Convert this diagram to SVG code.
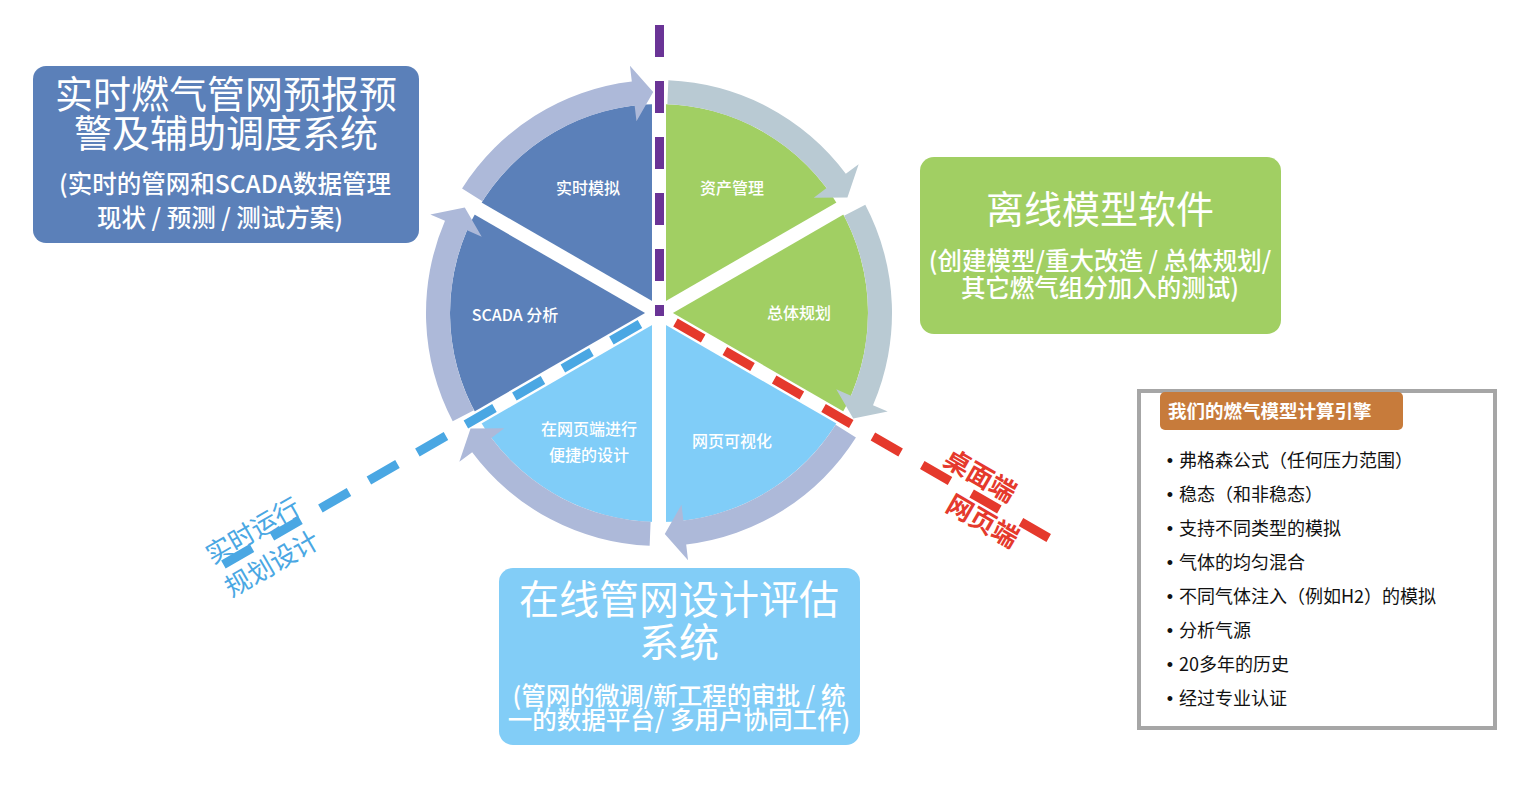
<svg xmlns="http://www.w3.org/2000/svg" width="1526" height="788" viewBox="0 0 1526 788">
<defs>
<style>
text{font-family:"Noto Sans CJK SC","Noto Sans",sans-serif}
.wl{fill:#fff;font-size:16px;font-weight:500;text-anchor:middle}
.t1{fill:#fff;font-size:38px;text-anchor:middle}
.t1b{fill:#fff;font-size:40px;text-anchor:middle}
.t2{fill:#fff;font-size:24.5px;font-weight:500;text-anchor:middle}
.blt{fill:#111;font-size:18px}
.dot{fill:#111;font-size:18px;font-family:"Liberation Sans",sans-serif;text-anchor:middle}
.hd{fill:#fff;font-size:18.5px;font-weight:bold}
.gap{stroke:#fff;stroke-width:14}
.ringA{fill:#adb9d9}
.ringB{fill:#b9cad3}
.rt{fill:#e5392c;font-size:26px;font-weight:bold;text-anchor:middle}
.bt{fill:#4aa7e3;font-size:26px;text-anchor:middle}
</style>
<path id="wedge" d="M659,313 L868,313 A209,209 0 0 1 763.5,494 Z"/>
<path id="arc" d="M891.81,322.35 A233,233 0 0 1 798.25,499.82 L807.81,512.65 L774.48,501.44 L774.34,467.75 L783.91,480.57 A209,209 0 0 0 867.83,321.39 Z"/>
</defs>
<rect width="1526" height="788" fill="#fff"/>

<g id="wedge-realtime-sim"><use href="#wedge" transform="rotate(210 659 313)" fill="#5b80b9"/><text class="wl" x="588" y="194">实时模拟</text></g>
<g id="wedge-asset"><use href="#wedge" transform="rotate(-90 659 313)" fill="#a1cf63"/><text class="wl" x="732" y="194">资产管理</text></g>
<g id="wedge-planning"><use href="#wedge" transform="rotate(-30 659 313)" fill="#a1cf63"/><text class="wl" x="799" y="319">总体规划</text></g>
<g id="wedge-webvis"><use href="#wedge" transform="rotate(30 659 313)" fill="#80cdf8"/><text class="wl" x="732" y="447">网页可视化</text></g>
<g id="wedge-webdesign"><use href="#wedge" transform="rotate(90 659 313)" fill="#80cdf8"/><text class="wl" x="589" y="435">在网页端进行</text><text class="wl" x="589" y="461">便捷的设计</text></g>
<g id="wedge-scada"><use href="#wedge" transform="rotate(150 659 313)" fill="#5b80b9"/><text class="wl" x="515" y="321">SCADA 分析</text></g>

<g id="gaps">
<line class="gap" x1="659" y1="313" x2="659" y2="101"/>
<line class="gap" x1="659" y1="313" x2="842.6" y2="207"/>
<line class="gap" x1="659" y1="313" x2="842.6" y2="419"/>
<line class="gap" x1="659" y1="313" x2="659" y2="525"/>
<line class="gap" x1="659" y1="313" x2="475.4" y2="419"/>
<line class="gap" x1="659" y1="313" x2="475.4" y2="207"/>
</g>

<g id="connectors">
<use href="#arc" class="ringB" transform="rotate(-90 659 313)"/>
<use href="#arc" class="ringB" transform="rotate(-30 659 313)"/>
<use href="#arc" class="ringA" transform="rotate(30 659 313)"/>
<use href="#arc" class="ringA" transform="rotate(90 659 313)"/>
<use href="#arc" class="ringA" transform="rotate(150 659 313)"/>
<use href="#arc" class="ringA" transform="rotate(210 659 313)"/>
<line x1="659.5" y1="25" x2="659.5" y2="316" stroke="#6a3496" stroke-width="9" stroke-dasharray="32 24"/>
<line x1="675.45" y1="322.5" x2="1048.7" y2="538" stroke="#e5392c" stroke-width="9" stroke-dasharray="32 25"/>
<line x1="639.95" y1="324" x2="223.4" y2="564.5" stroke="#4aa7e3" stroke-width="9" stroke-dasharray="33 23"/>
</g>

<g id="label-desktop-web">
<text class="rt" transform="translate(980 476) rotate(30)" y="9">桌面端</text>
<text class="rt" transform="translate(982.5 521.5) rotate(30)" y="9">网页端</text>
</g>
<g id="label-realtime-planning">
<text class="bt" transform="translate(253 531) rotate(-30)" y="9">实时运行</text>
<text class="bt" transform="translate(272 564) rotate(-30)" y="9">规划设计</text>
</g>

<g id="box-realtime">
<rect x="33" y="66" width="386" height="177" rx="13" fill="#5b80b9"/>
<text class="t1" x="226" y="108">实时燃气管网预报预</text>
<text class="t1" x="226" y="147">警及辅助调度系统</text>
<text class="t2" x="225" y="193">(实时的管网和SCADA数据管理</text>
<text class="t2" x="220" y="227" xml:space="preserve">现状 / 预测 / 测试方案)</text>
</g>

<g id="box-offline">
<rect x="920" y="157" width="361" height="177" rx="14" fill="#a1cf63"/>
<text class="t1" x="1100" y="223">离线模型软件</text>
<text class="t2" x="1100" y="270">(创建模型/重大改造 / 总体规划/</text>
<text class="t2" x="1100" y="297">其它燃气组分加入的测试)</text>
</g>

<g id="box-online">
<rect x="499" y="568" width="361" height="177" rx="14" fill="#82cdf7"/>
<text class="t1b" x="679" y="614">在线管网设计评估</text>
<text class="t1b" x="679" y="657">系统</text>
<text class="t2" x="679" y="705">(管网的微调/新工程的审批 / 统</text>
<text class="t2" x="679" y="729">一的数据平台/ 多用户协同工作)</text>
</g>

<g id="box-engine">
<rect x="1139" y="391" width="356" height="337" fill="#fff" stroke="#a6a6a6" stroke-width="4"/>
<rect x="1160" y="392" width="243" height="38" rx="5" fill="#c77b3b"/>
<text class="hd" x="1168" y="418">我们的燃气模型计算引擎</text>
<text class="dot" x="1170" y="467">•</text><text class="blt" x="1179" y="467">弗格森公式（任何压力范围）</text>
<text class="dot" x="1170" y="501">•</text><text class="blt" x="1179" y="501">稳态（和非稳态）</text>
<text class="dot" x="1170" y="535">•</text><text class="blt" x="1179" y="535">支持不同类型的模拟</text>
<text class="dot" x="1170" y="569">•</text><text class="blt" x="1179" y="569">气体的均匀混合</text>
<text class="dot" x="1170" y="603">•</text><text class="blt" x="1179" y="603">不同气体注入（例如H2）的模拟</text>
<text class="dot" x="1170" y="637">•</text><text class="blt" x="1179" y="637">分析气源</text>
<text class="dot" x="1170" y="671">•</text><text class="blt" x="1179" y="671">20多年的历史</text>
<text class="dot" x="1170" y="705">•</text><text class="blt" x="1179" y="705">经过专业认证</text>
</g>
</svg>
